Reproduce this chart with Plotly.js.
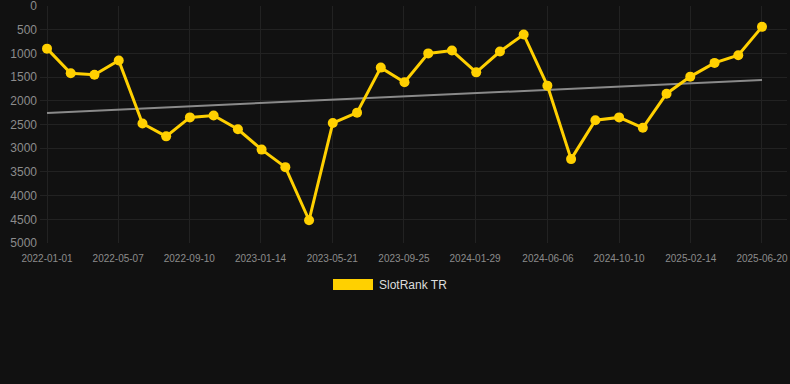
<!DOCTYPE html>
<html>
<head>
<meta charset="utf-8">
<script src="https://cdn.plot.ly/plotly-3.0.1.min.js"></script>
<style>
  html, body { margin: 0; padding: 0; background: #111111; }
  #chart { width: 790px; height: 384px; }
</style>
</head>
<body>
<div id="chart"></div>
<script>
const seriesName = "SlotRank TR";
const dates = [
  "2022-01-01", "2022-02-12", "2022-03-26", "2022-05-08", "2022-06-19", "2022-07-31",
  "2022-09-11", "2022-10-23", "2022-12-05", "2023-01-16", "2023-02-27", "2023-04-10",
  "2023-05-22", "2023-07-04", "2023-08-15", "2023-09-26", "2023-11-07", "2023-12-19",
  "2024-01-31", "2024-03-13", "2024-04-24", "2024-06-05", "2024-07-17", "2024-08-29",
  "2024-10-10", "2024-11-21", "2025-01-02", "2025-02-13", "2025-03-28", "2025-05-09",
  "2025-06-20"
];
const ranks = [
  900, 1420, 1450, 1150, 2480, 2750,
  2350, 2310, 2600, 3030, 3400, 4520,
  2470, 2250, 1300, 1610, 1000, 940,
  1400, 960, 600, 1680, 3230, 2410,
  2350, 2570, 1850, 1490, 1200, 1040,
  440
];
const tickDates = [
  "2022-01-01", "2022-05-07", "2022-09-10", "2023-01-14", "2023-05-21", "2023-09-25",
  "2024-01-29", "2024-06-06", "2024-10-10", "2025-02-14", "2025-06-20"
];
const yTicks = [0, 500, 1000, 1500, 2000, 2500, 3000, 3500, 4000, 4500, 5000];

// linear trend (least squares over point index)
const n = ranks.length;
let sx = 0, sy = 0, sxy = 0, sxx = 0;
for (let i = 0; i < n; i++) { sx += i; sy += ranks[i]; sxy += i * ranks[i]; sxx += i * i; }
const slope = (n * sxy - sx * sy) / (n * sxx - sx * sx);
const intercept = (sy - slope * sx) / n;
const trendX = [dates[0], dates[n - 1]];
const trendY = [intercept, intercept + slope * (n - 1)];

const gold = "#FFD000";

const traces = [
  {
    x: trendX, y: trendY, type: "scatter", mode: "lines",
    line: { color: "#8a8a8a", width: 2 },
    hoverinfo: "skip", showlegend: false
  },
  {
    x: dates, y: ranks, type: "scatter", mode: "lines+markers",
    name: seriesName,
    line: { color: gold, width: 3 },
    marker: { color: gold, size: 10 },
    showlegend: false
  }
];

const fontFam = "Liberation Sans, Arial, Helvetica, sans-serif";

const layout = {
  width: 790, height: 384,
  paper_bgcolor: "#111111", plot_bgcolor: "#111111",
  margin: { l: 40, r: 3, t: 6, b: 141 },
  font: { family: fontFam, color: "#8c8c8c" },
  showlegend: false,
  xaxis: {
    type: "date",
    range: ["2021-12-19 14:00", "2025-08-03 07:00"],
    tickmode: "array",
    tickvals: tickDates,
    ticktext: tickDates,
    tickfont: { size: 10, color: "#8c8c8c" },
    showgrid: true, gridcolor: "#222222", gridwidth: 1,
    zeroline: false, showline: false,
    ticks: "", ticklabelstandoff: 8,
    ticklabeloverflow: "allow"
  },
  yaxis: {
    range: [5000, 0],
    tickmode: "array",
    tickvals: yTicks,
    ticktext: yTicks.map(String),
    tickfont: { size: 12, color: "#8c8c8c" },
    showgrid: true, gridcolor: "#222222", gridwidth: 1,
    zeroline: false, showline: false,
    ticks: "", ticklabelstandoff: 2,
    ticklabeloverflow: "allow"
  },
  shapes: [
    {
      type: "rect", xref: "paper", yref: "paper",
      x0: (333 - 40) / 747, x1: (373 - 40) / 747,
      y0: (243 - 290) / 237, y1: (243 - 279) / 237,
      fillcolor: gold, line: { width: 0 }
    }
  ],
  annotations: [
    {
      text: seriesName, xref: "paper", yref: "paper",
      x: (377 - 40) / 747, y: (243 - 284.5) / 237,
      xanchor: "left", yanchor: "middle", showarrow: false,
      font: { size: 12, color: "#dddddd", family: fontFam }
    }
  ]
};

Plotly.newPlot("chart", traces, layout, { displayModeBar: false, staticPlot: true });
</script>
</body>
</html>
